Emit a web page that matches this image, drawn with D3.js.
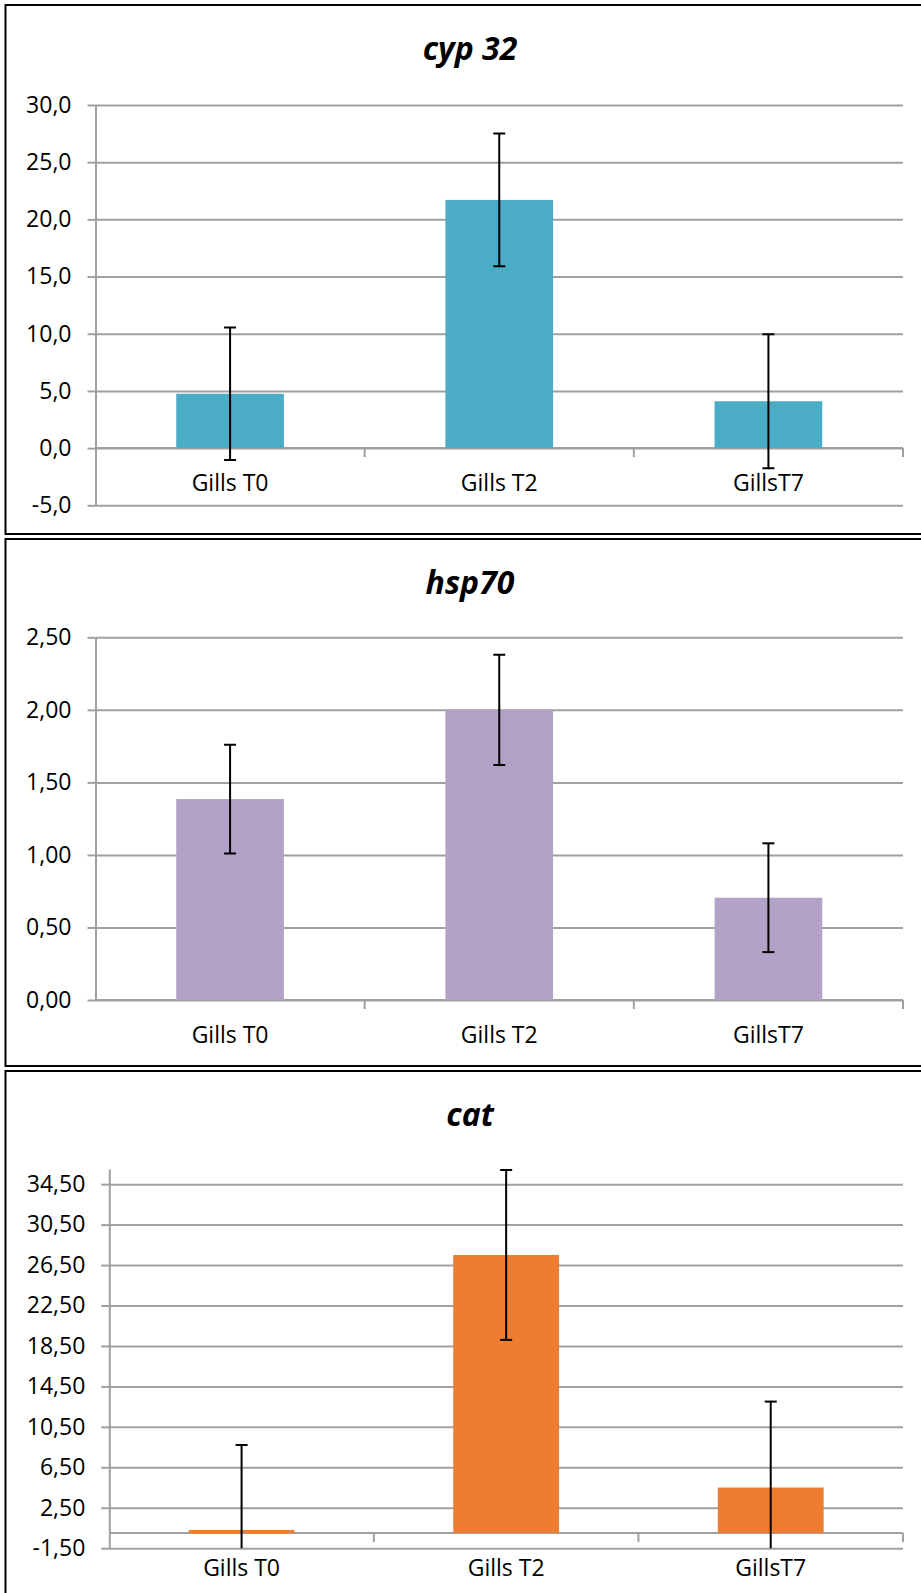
<!DOCTYPE html>
<html>
<head>
<meta charset="utf-8">
<script src="https://cdn.jsdelivr.net/npm/d3@7"></script>
<style>
  html, body { margin: 0; padding: 0; background: #fff; }
  svg { display: block; }
  text { font-family: "Open Sans", "Liberation Sans", sans-serif; }
</style>
</head>
<body>
<svg id="chart" width="921" height="1593"></svg>
<script>
// ---------- data ----------
const categories = ["Gills T0", "Gills T2", "GillsT7"];

const cypTitle = "cyp 32";
const cypValues = [4.75, 21.7, 4.1];
const cypErrors = [5.8, 5.8, 5.85];
const cypTicks = [-5, 0, 5, 10, 15, 20, 25, 30];

const hspTitle = "hsp70";
const hspValues = [1.385, 2.0, 0.705];
const hspErrors = [0.375, 0.38, 0.375];
const hspTicks = [0, 0.5, 1.0, 1.5, 2.0, 2.5];

const catTitle = "cat";
const catValues = [0.3, 27.5, 4.5];
const catErrors = [8.4, 8.4, 8.5];
const catTicks = [-1.5, 2.5, 6.5, 10.5, 14.5, 18.5, 22.5, 26.5, 30.5, 34.5];

// ---------- layout ----------
const svg = d3.select("#chart");
const gridColor = "#a0a0a0";
const plotRight = 903;

const panels = [
  { title: cypTitle, values: cypValues, errors: cypErrors, ticks: cypTicks, decimals: 1,
    color: "#4bacc6", top: 5, bottom: 534, axisX: 95.5, domain: [-5, 30], range: [505.3, 105] },
  { title: hspTitle, values: hspValues, errors: hspErrors, ticks: hspTicks, decimals: 2,
    color: "#b3a2c7", top: 539, bottom: 1066, axisX: 95.5, domain: [0, 2.5], range: [1000, 637.3] },
  { title: catTitle, values: catValues, errors: catErrors, ticks: catTicks, decimals: 2,
    color: "#ed7d31", top: 1071, bottom: 1600, axisX: 109.3, domain: [-1.5, 36], range: [1548.2, 1169] }
];

panels.forEach((p, pi) => {
  const g = svg.append("g");

  // panel border (right edge falls outside the picture)
  g.append("rect")
    .attr("x", 5.5).attr("y", p.top)
    .attr("width", 930).attr("height", p.bottom - p.top)
    .attr("fill", "none").attr("stroke", "#000").attr("stroke-width", 2);

  // title
  g.append("text")
    .attr("x", 470).attr("y", p.top + 55)
    .attr("text-anchor", "middle")
    .attr("font-size", 32).attr("font-weight", "bold").attr("font-style", "italic")
    .attr("fill", "#000")
    .text(p.title);

  const y = d3.scaleLinear().domain(p.domain).range(p.range);
  const x = d3.scaleBand().domain(categories).range([p.axisX, plotRight])
    .paddingInner(0.6).paddingOuter(0.3);
  const step = x.step();
  const fmt = v => d3.format("." + p.decimals + "f")(v).replace(".", ",").replace("\u2212", "-");

  // gridlines
  const grid = g.append("g").attr("transform", `translate(${p.axisX},0)`)
    .call(d3.axisLeft(y).tickValues(p.ticks).tickSize(-(plotRight - p.axisX)).tickFormat(""));
  grid.select(".domain").remove();
  grid.selectAll("line").attr("stroke", gridColor).attr("stroke-width", 2);

  // y axis with ticks + labels
  const ya = g.append("g").attr("transform", `translate(${p.axisX},0)`)
    .call(d3.axisLeft(y).tickValues(p.ticks).tickSize(8).tickSizeOuter(0).tickPadding(16).tickFormat(fmt));
  ya.select(".domain").attr("stroke", gridColor).attr("stroke-width", 2);
  ya.selectAll(".tick line").attr("stroke", gridColor).attr("stroke-width", 2);
  ya.selectAll(".tick text")
    .attr("font-family", "'Open Sans', sans-serif")
    .attr("font-size", 23).attr("fill", "#000");

  // x axis at zero
  const y0 = y(0);
  const boundaries = categories.map(c => x(c) - step * 0.3 + step);
  g.append("line")
    .attr("x1", p.axisX).attr("x2", plotRight).attr("y1", y0).attr("y2", y0)
    .attr("stroke", gridColor).attr("stroke-width", 2);
  g.selectAll(".xtick").data(boundaries).enter().append("line")
    .attr("x1", d => d).attr("x2", d => d)
    .attr("y1", y0).attr("y2", y0 + 9)
    .attr("stroke", gridColor).attr("stroke-width", 2);

  // clip for plot area
  const clipId = "clip" + pi;
  svg.append("clipPath").attr("id", clipId).append("rect")
    .attr("x", p.axisX).attr("y", p.range[1] - 2)
    .attr("width", plotRight - p.axisX).attr("height", p.range[0] - p.range[1] + 2);

  const plot = g.append("g").attr("clip-path", `url(#${clipId})`);

  // bars
  plot.selectAll(".bar").data(p.values).enter().append("rect")
    .attr("x", (d, i) => x(categories[i]))
    .attr("width", x.bandwidth())
    .attr("y", d => Math.min(y(d), y0))
    .attr("height", d => Math.abs(y0 - y(d)))
    .attr("fill", p.color);

  // error bars
  const cx = i => x(categories[i]) + x.bandwidth() / 2;
  const eb = plot.selectAll(".err").data(p.values).enter().append("g");
  eb.append("line")
    .attr("x1", (d, i) => cx(i)).attr("x2", (d, i) => cx(i))
    .attr("y1", (d, i) => y(d + p.errors[i])).attr("y2", (d, i) => y(d - p.errors[i]))
    .attr("stroke", "#000").attr("stroke-width", 2);
  eb.append("line")
    .attr("x1", (d, i) => cx(i) - 6).attr("x2", (d, i) => cx(i) + 6)
    .attr("y1", (d, i) => y(d + p.errors[i])).attr("y2", (d, i) => y(d + p.errors[i]))
    .attr("stroke", "#000").attr("stroke-width", 2);
  eb.append("line")
    .attr("x1", (d, i) => cx(i) - 6).attr("x2", (d, i) => cx(i) + 6)
    .attr("y1", (d, i) => y(d - p.errors[i])).attr("y2", (d, i) => y(d - p.errors[i]))
    .attr("stroke", "#000").attr("stroke-width", 2);

  // category labels
  g.selectAll(".xlab").data(categories).enter().append("text")
    .attr("x", d => x(d) + x.bandwidth() / 2)
    .attr("y", y0 + 43)
    .attr("text-anchor", "middle")
    .attr("font-size", 23).attr("fill", "#000")
    .text(d => d);
});
</script>
</body>
</html>
